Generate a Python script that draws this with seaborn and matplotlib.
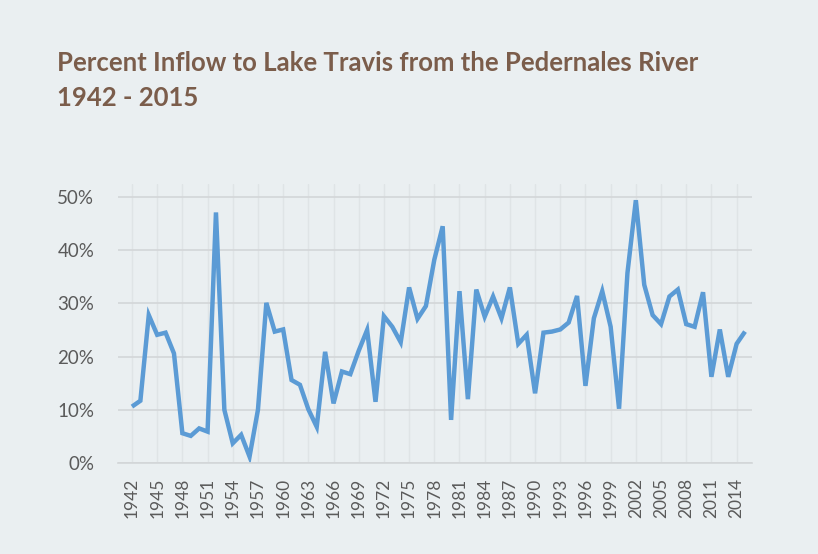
import matplotlib
matplotlib.use("Agg")
import matplotlib.pyplot as plt
import seaborn as sns
import pandas as pd

years = list(range(1942, 2016))
percent_inflow = [
    10.6, 11.7, 27.8, 24.1, 24.5, 20.6, 5.6, 5.1, 6.5, 5.9,
    47.1, 10.0, 3.7, 5.3, 1.2, 10.0, 30.1, 24.7, 25.1, 15.6,
    14.7, 10.1, 6.8, 20.9, 11.2, 17.2, 16.7, 21.1, 25.0, 11.5,
    27.6, 25.6, 22.7, 33.0, 27.1, 29.5, 38.2, 44.5, 8.1, 32.3,
    12.0, 32.6, 27.5, 31.3, 27.2, 33.0, 22.4, 24.1, 13.1, 24.5,
    24.7, 25.1, 26.4, 31.4, 14.5, 27.2, 32.3, 25.6, 10.2, 35.7,
    49.4, 33.5, 27.8, 26.1, 31.3, 32.6, 26.1, 25.6, 32.1, 16.2,
    25.1, 16.2, 22.4, 24.7,
]
tick_years = list(range(1942, 2016, 3))
y_ticks = [0, 10, 20, 30, 40, 50]
title_text = "Percent Inflow to Lake Travis from the Pedernales River\n1942 - 2015"

df = pd.DataFrame({"year": years, "pct": percent_inflow})

sns.set_theme(style="white")
plt.rcParams["font.family"] = ["Lato", "DejaVu Sans"]

bg = "#eaeff1"
fig = plt.figure(figsize=(8.18, 5.54), dpi=100, facecolor=bg)
ax = fig.add_axes([118 / 818, (554 - 463) / 554, (752 - 118) / 818, (463 - 183.7) / 554])
ax.set_facecolor(bg)

sns.lineplot(data=df, x="year", y="pct", ax=ax, color="#5b9bd5", linewidth=3.2,
             solid_joinstyle="miter", solid_capstyle="butt")

ax.set_xlim(1942 - 14 / 8.41, 2015 + 7 / 8.41)
ax.set_ylim(0, 52.5)
ax.set_xticks(tick_years)
ax.set_xticklabels([str(y) for y in tick_years], rotation=90, fontsize=12.5, color="#5a5a5a")
ax.set_yticks(y_ticks)
ax.set_yticklabels([f"{v}%" for v in y_ticks], fontsize=13.5, color="#5a5a5a")
ax.tick_params(axis="x", length=6.5, color="#dde2e4", width=1, pad=4)
ax.tick_params(axis="y", length=0, pad=17)

ax.xaxis.grid(True, color="#dfe4e6", linewidth=1)
ax.yaxis.grid(True, color="#d3d6d8", linewidth=1.2)
ax.set_axisbelow(True)
for s in ["top", "right", "left"]:
    ax.spines[s].set_visible(False)
ax.spines["bottom"].set_color("#d3d6d8")
ax.spines["bottom"].set_linewidth(1.2)
ax.set_xlabel("")
ax.set_ylabel("")

fig.text(57 / 818, 1 - 51 / 554, title_text, fontsize=18.5, fontweight="bold",
         color="#7b5d4b", ha="left", va="top", linespacing=1.55)

fig.savefig("out.png", dpi=100, facecolor=bg)
